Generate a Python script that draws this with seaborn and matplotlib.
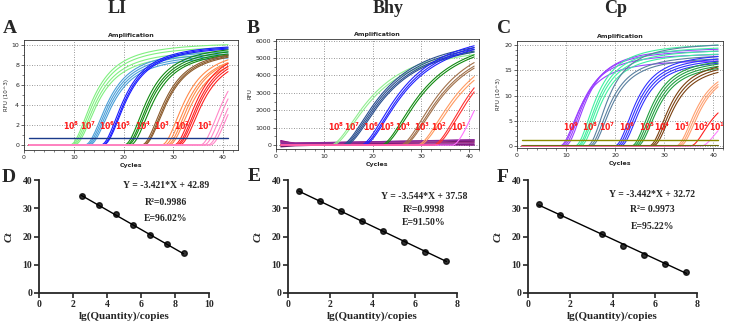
import numpy as np
import pandas as pd
import matplotlib
matplotlib.use("Agg")
import matplotlib.pyplot as plt
from matplotlib.ticker import MultipleLocator
import seaborn as sns

sns.set_theme(style="ticks")
plt.rcParams['font.family'] = ['DejaVu Sans']
plt.rcParams['mathtext.fontset'] = 'dejavusans'
SERIF = ['Liberation Serif', 'DejaVu Serif']

# ---------------- data ----------------
cycles = np.arange(1, 41.01, 0.25)

# Panel A : LI  (take-off cycle and plateau RFU per replicate)
li_labels = ["8", "7", "6", "5", "4", "3", "2", "1"]
li_colors = ["#80f080", "#4a9fd8", "#1a1aff", "#108a10", "#8b5a2b", "#ff8a4a", "#ff2020", "#ff88c8"]
li_onset = [[9.2, 9.5, 9.8, 10.1], [12.2, 12.5, 12.8, 13.1], [15.4, 15.7, 15.9],
            [20.1, 20.5, 20.8, 21.3], [23.6, 23.9, 24.1], [27.6, 28.2, 28.7, 29.1],
            [30.1, 30.5, 30.8, 31.2], [35.4, 36.1, 36.9, 37.4]]
li_plat = [[10.3, 10.0, 9.6, 9.3], [9.6, 9.4, 9.2, 9.0], [10.2, 10.1, 10.0],
           [10.1, 9.9, 9.7, 9.6], [9.8, 9.7, 9.6], [9.8, 9.6, 9.6, 9.3],
           [10.0, 9.8, 9.6, 9.4], [10.0, 9.8, 9.6, 9.4]]
li_label_x = [9.4, 12.9, 16.7, 20.0, 24.0, 27.8, 31.8, 36.3]
li_label_y = 1.95
li_threshold = 0.7

# Panel B : Bhy
bhy_labels = ["8", "7", "6", "5", "4", "3", "2", "1"]
bhy_colors = ["#90ee90", "#2a4f8f", "#2020ff", "#108a10", "#a0704a", "#ff9a60", "#ff3030", "#ff70ff"]
bhy_onset = [[11.4, 11.8], [13.6, 13.9, 14.2, 14.5], [17.6, 18.0, 18.3], [21.8, 22.2],
             [25.8, 26.2, 26.5], [29.3, 29.7], [32.6, 33.0], [36.6]]
bhy_plat = [[6100, 5950], [6500, 6400, 6300, 6250], [6900, 6800, 6700], [6700, 6600],
            [6800, 6600, 6500], [6600, 6400], [7200, 7000], [9000]]
bhy_label_x = [12.4, 15.8, 19.6, 22.9, 26.3, 30.2, 33.8, 37.9]
bhy_label_y = 1050
# flat (negative) traces : values at cycle 1, 4 and 41
bhy_flat_x = [1, 4, 41]
bhy_flat_y = [[250, 60, 0], [200, 110, 280], [-100, -40, 220], [150, 100, 150], [0, 30, 60], [100, 90, 300]]
bhy_flat_colors = ["#800080", "#9a1f8a", "#6a1a6a", "#a0308a", "#7a0a7a", "#8a2a9a"]

# Panel C : Cp
cp_labels = ["9", "8", "7", "6", "5", "4", "3", "2", "1"]
cp_colors = ["#9a40ff", "#40f0a0", "#5a80a0", "#3030ff", "#20a040", "#7a4010", "#ffa070", "#ff2020", "#ff80ff"]
cp_onset = [[8.7, 9.0, 9.4, 9.8], [11.8, 12.2, 12.5, 12.9], [14.3, 14.7, 15.1],
            [19.9, 20.3, 20.7, 21.1], [23.3, 23.7, 24.1, 24.5], [26.9, 27.3, 27.7],
            [32.4, 32.8, 33.2], [35.3], [37.5]]
cp_plat = [[17.2, 18.5, 19.2, 19.6], [20.5, 19.9, 19.3, 18.7], [20.6, 18.3, 17.8],
           [18.6, 18.1, 17.7, 17.3], [17.8, 17.4, 17.0, 16.6], [17.4, 16.9, 16.4],
           [16.5, 16.2, 16.0], [11.0], [8.5]]
cp_label_x = [11.1, 14.9, 18.4, 22.5, 26.5, 29.6, 33.6, 37.6, 40.9]
cp_label_y = 3.8
cp_threshold = 1.1
cp_baseline = 0.2

# Standard curves
d_x = [2.5, 3.5, 4.5, 5.5, 6.5, 7.5, 8.5]
d_ct = [34.3, 31.3, 28.0, 24.0, 20.6, 17.3, 14.0]
e_x = [0.5, 1.5, 2.5, 3.5, 4.5, 5.5, 6.5, 7.5]
e_ct = [36.0, 32.6, 28.9, 25.5, 22.0, 18.2, 14.6, 11.2]
f_x = [0.5, 1.5, 3.5, 4.5, 5.5, 6.5, 7.5]
f_ct = [31.6, 27.5, 21.0, 16.7, 13.6, 10.2, 7.6]
d_text = ["Y = -3.421*X + 42.89", "R²=0.9986", "E=96.02%"]
e_text = ["Y = -3.544*X + 37.58", "R²=0.9998", "E=91.50%"]
f_text = ["Y = -3.442*X + 32.72", "R²= 0.9973", "E=95.22%"]


def onset_curve(x, onset, plat, k, n):
    t = np.clip(x - onset, 0, None)
    return plat * t ** n / (t ** n + k ** n)


def build(onsets, plats, colors, k, n):
    rows = []
    pal = {}
    for g, (ms, ps) in enumerate(zip(onsets, plats)):
        for r, (m, p) in enumerate(zip(ms, ps)):
            cid = f"g{g}r{r}"
            pal[cid] = colors[g]
            rows.append(pd.DataFrame({"cycle": cycles, "rfu": onset_curve(cycles, m, p, k, n),
                                      "curve": cid}))
    return pd.concat(rows, ignore_index=True), pal


def style_amp(ax, ylabel, xlim, ylim, ymaj, ymin):
    ax.set_xlim(*xlim)
    ax.set_ylim(*ylim)
    ax.xaxis.set_major_locator(MultipleLocator(10))
    ax.xaxis.set_minor_locator(MultipleLocator(2))
    ax.yaxis.set_major_locator(MultipleLocator(ymaj))
    ax.yaxis.set_minor_locator(MultipleLocator(ymin))
    ax.grid(True, which='major', ls=(0, (1, 2)), color='#777777', lw=0.6)
    ax.tick_params(labelsize=4.5, length=2, width=0.5, pad=1.5)
    ax.tick_params(which='minor', length=1.2, width=0.4)
    for sp in ax.spines.values():
        sp.set_linewidth(0.6)
        sp.set_color('#333333')
    ax.set_title("Amplification", fontsize=4.5, fontweight='bold', pad=2.5)
    ax.set_xlabel("Cycles", fontsize=4.5, fontweight='bold', labelpad=2)
    ax.set_ylabel(ylabel, fontsize=4, labelpad=2)


def curve_labels(ax, labels, xs, y):
    for lab, x in zip(labels, xs):
        ax.text(x, y, r"$\mathbf{10^{%s}}$" % lab, color='#ff1a1a', fontsize=5.6,
                ha='center', va='center')


fig = plt.figure(figsize=(7.32, 3.25), dpi=100)
W, H = 732, 325


def add_ax(l, r, t, b):
    return fig.add_axes([l / W, 1 - b / H, (r - l) / W, (b - t) / H])


# ---- Panel A
axA = add_ax(24, 238, 40, 150)
dfA, palA = build(li_onset, li_plat, li_colors, 5.2, 2.0)
sns.lineplot(data=dfA, x="cycle", y="rfu", hue="curve", palette=palA, legend=False,
             estimator=None, lw=0.8, ax=axA)
axA.axhline(li_threshold, xmin=1 / 43, xmax=41 / 43, color="#1a3a8a", lw=1.0)
style_amp(axA, "RFU (10^3)", (0, 43), (-0.5, 10.5), 2, 1)
curve_labels(axA, li_labels, li_label_x, li_label_y)

# ---- Panel B
axB = add_ax(276, 479, 39, 149)
dfB, palB = build(bhy_onset, bhy_plat, bhy_colors, 9.3, 1.7)
for yv, c in zip(bhy_flat_y, bhy_flat_colors):
    sns.lineplot(x=bhy_flat_x, y=yv, color=c, lw=1.0, ax=axB)
sns.lineplot(data=dfB, x="cycle", y="rfu", hue="curve", palette=palB, legend=False,
             estimator=None, lw=0.8, ax=axB)
style_amp(axB, "RFU", (0, 42), (-230, 6100), 1000, 500)
curve_labels(axB, bhy_labels, bhy_label_x, bhy_label_y)

# ---- Panel C
axC = add_ax(517, 723, 41, 148)
dfC, palC = build(cp_onset, cp_plat, cp_colors, 4.7, 2.0)
sns.lineplot(data=dfC, x="cycle", y="rfu", hue="curve", palette=palC, legend=False,
             estimator=None, lw=0.8, ax=axC)
axC.axhline(cp_threshold, xmin=1 / 42, xmax=41 / 42, color="#8a8a00", lw=1.0)
axC.axhline(cp_baseline, xmin=1 / 42, xmax=41 / 42, color="#6a6a10", lw=0.8)
style_amp(axC, "RFU (10^3)", (0, 42), (-0.4, 20.8), 5, 1)
curve_labels(axC, cp_labels, cp_label_x, cp_label_y)


# ---- Standard curves
def std_panel(l, r, x, y, xmax, texts, tx, tys):
    ax = add_ax(l, r, 180, 293)
    sns.regplot(x=x, y=y, ci=None, ax=ax, color='black',
                scatter_kws=dict(s=16, zorder=3), line_kws=dict(lw=1.0))
    ax.set_xlim(0, xmax)
    ax.set_ylim(0, 40)
    ax.set_xticks(np.arange(0, xmax + 0.1, 2))
    ax.set_yticks([0, 10, 20, 30, 40])
    sns.despine(ax=ax)
    for sp in ax.spines.values():
        sp.set_linewidth(1.3)
    ax.tick_params(length=3.5, width=1.2, labelsize=7, pad=1.5)
    for lab in ax.get_xticklabels() + ax.get_yticklabels():
        lab.set_fontfamily(SERIF)
        lab.set_fontweight('bold')
    ax.set_xlabel("lg(Quantity)/copies", fontsize=8, fontweight='bold', family=SERIF, labelpad=2)
    ax.set_ylabel("Ct", fontsize=8, fontweight='bold', fontstyle='italic', family=SERIF, labelpad=6)
    for t, ty in zip(texts, tys):
        ax.text(tx, ty, t, fontsize=7, fontweight='bold', family=SERIF, ha='center', va='center')
    return ax


std_panel(39, 209, d_x, d_ct, 10, d_text, 7.47, [37.9, 32.2, 26.5])
std_panel(288, 457, e_x, e_ct, 8, e_text, 6.44, [34.0, 29.7, 25.1])
std_panel(528, 697, f_x, f_ct, 8, f_text, 5.87, [35.0, 29.4, 23.7])

# ---- Titles and panel letters
for txt, x in [("LI", 117), ("Bhy", 388), ("Cp", 616)]:
    fig.text(x / W, 1 - 13 / H, txt, fontsize=13, fontweight='bold', family=SERIF,
             ha='center', va='baseline')
for txt, x, y in [("A", 3, 33), ("B", 247, 33), ("C", 497, 33),
                  ("D", 2, 182), ("E", 248, 181), ("F", 497, 182)]:
    fig.text(x / W, 1 - y / H, txt, fontsize=14, fontweight='bold', family=SERIF,
             ha='left', va='baseline')

fig.savefig("out.png", dpi=100)
